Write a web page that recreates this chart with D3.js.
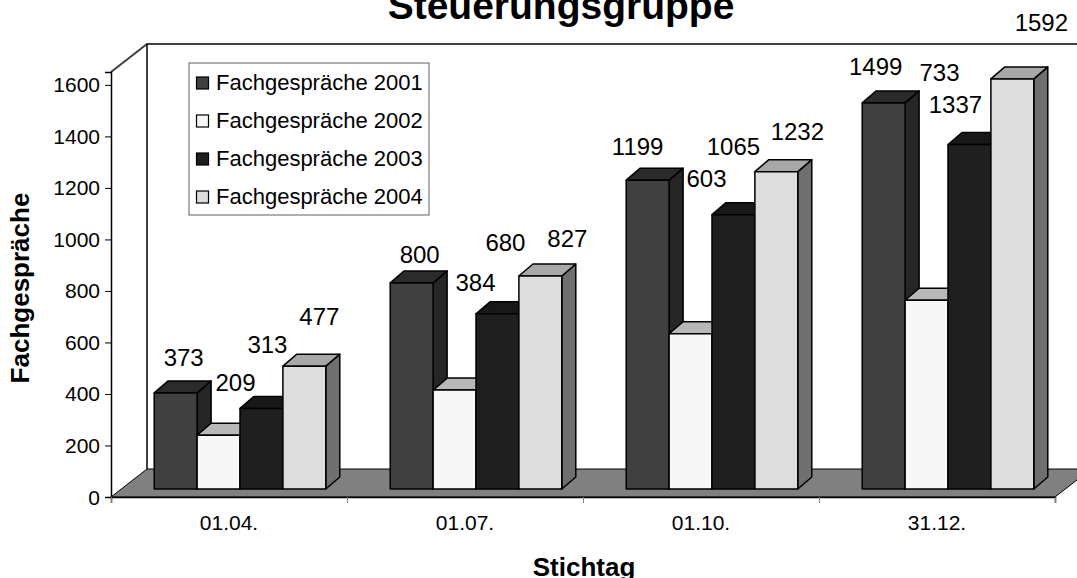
<!DOCTYPE html>
<html>
<head>
<meta charset="utf-8">
<script src="https://d3js.org/d3.v7.min.js"></script>
<style>
  html, body { margin: 0; padding: 0; background: #fff; overflow: hidden; }
  svg { display: block; }
  text { font-family: "Liberation Sans", Arial, sans-serif; fill: #000; }
</style>
</head>
<body>
<div id="chart"></div>
<script>
// Chart values
const categories = ['01.04.', '01.07.', '01.10.', '31.12.'];
const seriesNames = ['Fachgespräche 2001', 'Fachgespräche 2002', 'Fachgespräche 2003', 'Fachgespräche 2004'];
const values2001 = [373, 800, 1199, 1499];
const values2002 = [209, 384, 603, 733];
const values2003 = [313, 680, 1065, 1337];
const values2004 = [477, 827, 1232, 1592];
const yTicks = [0, 200, 400, 600, 800, 1000, 1200, 1400, 1600];

const allValues = [values2001, values2002, values2003, values2004];

// front, top, side shade per series
const shades = [
  ['#404040', '#2b2b2b', '#262626'],
  ['#f7f7f7', '#b8b8b8', '#7a7a7a'],
  ['#1f1f1f', '#181818', '#141414'],
  ['#dddddd', '#a8a8a8', '#6f6f6f']
];

// The labels were dragged around by hand in the original, so each one
// carries its own nudge from the top of its bar: [series][category] = [dx, dy]
const labelNudge = [
  [[8, -35], [8, -28], [-10, -33], [-8, -36]],
  [[17, -52], [21, -107], [16, -155], [13, -227]],
  [[6, -63], [8, -71], [0, -68], [-14, -40]],
  [[15, -49], [27, -37], [21, -40], [29, -56]]
];

const width = 1077, height = 578;
const depthX = 14, depthY = 12;      // bar depth
const shiftX = 11, shiftY = 8;       // bars stand in the middle of the floor
const wallX = 36, wallY = 28;        // floor depth

const svg = d3.select('#chart').append('svg')
  .attr('width', width)
  .attr('height', height);

const x = d3.scaleBand()
  .domain(categories)
  .range([111, 1055])
  .paddingInner(0.273)
  .paddingOuter(0.1365);

const xSeries = d3.scaleBand()
  .domain(d3.range(4))
  .range([0, x.bandwidth()]);

const y = d3.scaleLinear().domain([0, 1650]).range([497, 72]);

const y0 = y(0), yTop = y.range()[1], xL = x.range()[0], xR = x.range()[1];

function label (g, px, py, txt, size, anchor) {
  return g.append('text')
    .attr('x', px)
    .attr('y', py)
    .attr('text-anchor', anchor || 'middle')
    .attr('font-size', size)
    .text(txt);
}

/* Walls and floor */
const poly = (pts) => pts.map(p => p.join(',')).join(' ');

svg.append('polygon')
  .attr('points', poly([[xL, y0], [xL + wallX, y0 - wallY], [xR + wallX, y0 - wallY], [xR, y0]]))
  .attr('fill', '#808080')
  .attr('stroke', '#000')
  .attr('stroke-width', 1);

svg.append('path')
  .attr('d', `M${xL},${yTop}L${xL + wallX},${yTop - wallY}L${width},${yTop - wallY}`)
  .attr('fill', 'none')
  .attr('stroke', '#404040')
  .attr('stroke-width', 2);

svg.append('line')
  .attr('x1', xL + wallX).attr('x2', xL + wallX)
  .attr('y1', yTop - wallY).attr('y2', y0 - wallY)
  .attr('stroke', '#000')
  .attr('stroke-width', 1.5);

/* Axes */
const yAxis = d3.axisLeft(y).tickValues(yTicks).tickSize(6).tickPadding(4).tickFormat(d3.format('d'));
const gy = svg.append('g').attr('transform', `translate(${xL},0)`).call(yAxis);
gy.select('.domain').attr('stroke-width', 1.5);
gy.selectAll('.tick text').remove();
yTicks.forEach(t => label(gy, -11, y(t) + 7.5, t, 21, 'end'));

const xAxis = d3.axisBottom(d3.scalePoint().domain(d3.range(5)).range([xL, xR])).tickSize(6).tickFormat('');
const gx = svg.append('g').attr('transform', `translate(0,${y0})`).call(xAxis);
gx.select('.domain').attr('stroke', '#000').attr('stroke-width', 1.5);
gx.selectAll('.tick line').attr('stroke', '#808080');

categories.forEach(c => label(svg, x(c) + x.bandwidth() / 2, 530, c, 21));

/* Bars, left to right so every bar covers the side of the one before */
const barsG = svg.append('g');
categories.forEach((c, ci) => {
  allValues.forEach((vals, si) => {
    const x0 = x(c) + shiftX + xSeries(si);
    const x1 = x0 + xSeries.bandwidth();
    const yb = y0 - shiftY;
    const yt = y(vals[ci]) - shiftY;
    const g = barsG.append('g')
      .attr('stroke', '#000')
      .attr('stroke-width', 1.5)
      .attr('stroke-linejoin', 'round');

    g.append('polygon')
      .attr('points', poly([[x1, yt], [x1 + depthX, yt - depthY], [x1 + depthX, yb - depthY], [x1, yb]]))
      .attr('fill', shades[si][2]);
    g.append('polygon')
      .attr('points', poly([[x0, yt], [x0 + depthX, yt - depthY], [x1 + depthX, yt - depthY], [x1, yt]]))
      .attr('fill', shades[si][1]);
    g.append('rect')
      .attr('x', x0).attr('y', yt)
      .attr('width', x1 - x0).attr('height', yb - yt)
      .attr('fill', shades[si][0]);
  });
});

/* Value labels */
const labelsG = svg.append('g');
categories.forEach((c, ci) => {
  allValues.forEach((vals, si) => {
    const cx = x(c) + shiftX + xSeries(si) + xSeries.bandwidth() / 2;
    const n = labelNudge[si][ci];
    label(labelsG, cx + n[0], y(vals[ci]) - shiftY + n[1] + 8, vals[ci], 24);
  });
});

/* Legend */
const legend = svg.append('g').attr('transform', 'translate(189,63)');
legend.append('rect')
  .attr('width', 240).attr('height', 152)
  .attr('fill', '#fff').attr('stroke', '#606060').attr('stroke-width', 1);
seriesNames.forEach((name, i) => {
  const ly = 20 + i * 38;
  legend.append('rect')
    .attr('x', 7.5).attr('y', ly - 6)
    .attr('width', 12).attr('height', 12)
    .attr('fill', shades[i][0])
    .attr('stroke', '#000').attr('stroke-width', 1.2);
  label(legend, 27, ly + 7, name, 22, 'start');
});

/* Titles */
svg.append('text')
  .attr('transform', 'translate(561,19)')
  .attr('text-anchor', 'middle')
  .attr('font-size', 39)
  .attr('font-weight', 'bold')
  .text('Steuerungsgruppe');

svg.append('text')
  .attr('transform', 'translate(584,576)')
  .attr('text-anchor', 'middle')
  .attr('font-size', 26)
  .attr('font-weight', 'bold')
  .text('Stichtag');

svg.append('text')
  .attr('transform', 'translate(29,288) rotate(-90)')
  .attr('text-anchor', 'middle')
  .attr('font-size', 26)
  .attr('font-weight', 'bold')
  .text('Fachgespräche');
</script>
</body>
</html>
